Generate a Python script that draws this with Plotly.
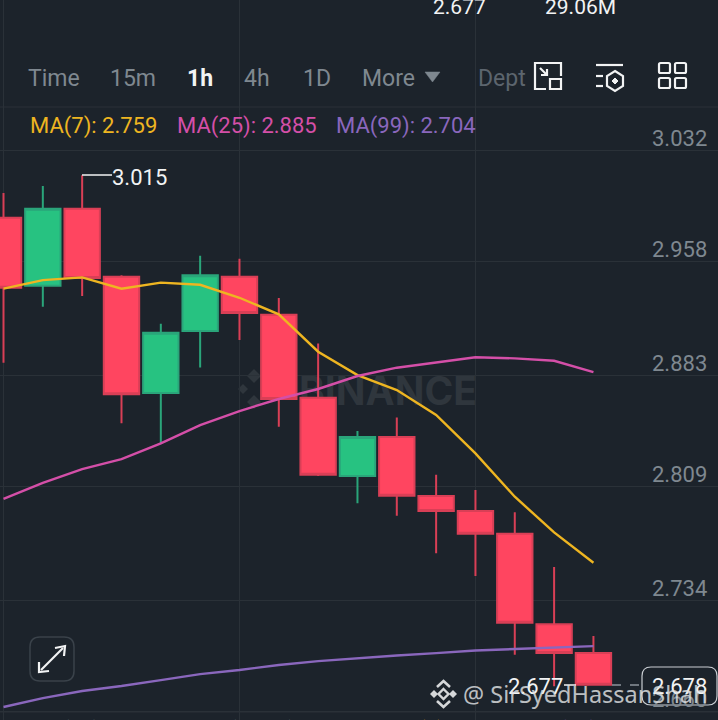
import plotly.graph_objects as go

# candle data
candle_x = list(range(16))
opens = [2.9872, 2.9422, 2.9931, 2.9481, 2.8711, 2.9122, 2.9481, 2.9230, 2.8680, 2.8162, 2.8420, 2.8029, 2.7930, 2.7780, 2.7180, 2.6990]
highs = [3.0035, 3.0082, 3.0153, 2.9491, 2.9170, 2.9620, 2.9600, 2.9340, 2.9040, 2.8460, 2.8550, 2.8170, 2.8069, 2.7922, 2.7559, 2.7103]
lows = [2.8912, 2.9283, 2.9353, 2.8511, 2.8378, 2.8881, 2.9062, 2.8488, 2.8162, 2.7981, 2.7899, 2.7650, 2.7500, 2.6979, 2.6770, 2.6780]
closes = [2.9408, 2.9931, 2.9473, 2.8703, 2.9111, 2.9491, 2.9241, 2.8672, 2.8170, 2.8420, 2.8031, 2.7930, 2.7780, 2.7191, 2.6990, 2.6780]

ma7 = [2.9402, 2.9459, 2.9477, 2.9402, 2.9442, 2.9428, 2.9342, 2.9232, 2.8985, 2.8830, 2.8731, 2.8566, 2.8312, 2.8025, 2.7789, 2.7588]
ma25 = [2.8010, 2.8116, 2.8208, 2.8274, 2.8378, 2.8499, 2.8592, 2.8672, 2.8738, 2.8824, 2.8879, 2.8912, 2.8948, 2.8941, 2.8925, 2.8850]
ma99 = [2.6633, 2.6692, 2.6739, 2.6772, 2.6811, 2.6851, 2.6878, 2.6911, 2.6937, 2.6957, 2.6974, 2.6990, 2.7007, 2.7017, 2.7027, 2.7036]

price_ticks = [3.032, 2.958, 2.883, 2.809, 2.734, 2.660]
time_ticks = [0, 6, 12]
tabs = ["Time", "15m", "1h", "4h", "1D", "More", "Dept"]

W, H = 718, 720
BG = "#1c232b"
GRID = "#2a3138"
RED = "#ff4560"
RED_EDGE = "#d93f56"
GREEN = "#27c281"
GREEN_EDGE = "#2aa57a"
YELLOW = "#eeb521"
PINK = "#d44fa8"
PURPLE = "#8a67bd"
GREY = "#7f8890"
WHITE = "#f2f3f4"
FONT = "Roboto"


def px(x):
    return x / W


def py(y):
    return 1 - y / H


def path(points, close=False):
    d = " ".join(
        ("M" if i == 0 else "L") + f"{px(x):.5f},{py(y):.5f}"
        for i, (x, y) in enumerate(points)
    )
    return d + (" Z" if close else "")


def round_box(x0, y0, x1, y1, r):
    # rounded rectangle as an svg path, corners as quadratic curves
    p = lambda x, y: f"{px(x):.5f},{py(y):.5f}"
    return (
        f"M{p(x0 + r, y0)} L{p(x1 - r, y0)} Q{p(x1, y0)} {p(x1, y0 + r)} "
        f"L{p(x1, y1 - r)} Q{p(x1, y1)} {p(x1 - r, y1)} "
        f"L{p(x0 + r, y1)} Q{p(x0, y1)} {p(x0, y1 - r)} "
        f"L{p(x0, y0 + r)} Q{p(x0, y0)} {p(x0 + r, y0)} Z"
    )


fig = go.Figure()

fig.add_trace(
    go.Candlestick(
        x=candle_x,
        open=opens,
        high=highs,
        low=lows,
        close=closes,
        whiskerwidth=0,
        increasing=dict(fillcolor=GREEN, line=dict(color=GREEN_EDGE, width=2)),
        decreasing=dict(fillcolor=RED, line=dict(color=RED_EDGE, width=2)),
        showlegend=False,
    )
)

for values, color in [(ma7, YELLOW), (ma25, PINK), (ma99, PURPLE)]:
    fig.add_trace(
        go.Scatter(
            x=candle_x,
            y=values,
            mode="lines",
            line=dict(color=color, width=2.4),
            showlegend=False,
        )
    )

fig.update_layout(
    width=W,
    height=H,
    margin=dict(l=0, r=0, t=0, b=0),
    paper_bgcolor=BG,
    plot_bgcolor=BG,
    boxgap=0.1,
    boxgroupgap=0,
    font=dict(family=FONT),
    showlegend=False,
)
fig.update_xaxes(
    range=[-0.089, 18.167],
    tickvals=time_ticks,
    showticklabels=False,
    showgrid=True,
    gridcolor=GRID,
    gridwidth=1,
    zeroline=False,
    rangeslider_visible=False,
)
fig.update_yaxes(
    range=[2.6547, 3.1313],
    tickvals=price_ticks,
    showticklabels=False,
    showgrid=True,
    gridcolor=GRID,
    gridwidth=1,
    zeroline=False,
)


def text(x, y, s, color, size=22, anchor="left", weight=None, family=FONT):
    fig.add_annotation(
        x=px(x - 1.5),
        y=py(y),
        xref="paper",
        yref="paper",
        text=s,
        showarrow=False,
        xanchor=anchor,
        yanchor="middle",
        borderpad=0,
        font=dict(family=family, size=size, color=color, weight=weight),
    )


def line(points, color=WHITE, width=2.2, close=False, dash=None, fill=None):
    fig.add_shape(
        type="path",
        xref="paper",
        yref="paper",
        path=path(points, close),
        line=dict(color=color, width=width, dash=dash),
        fillcolor=fill,
    )


def diamond(cx, cy, r, color, layer="above"):
    fig.add_shape(
        type="path", xref="paper", yref="paper", layer=layer,
        path=path([(cx - r, cy), (cx, cy - r), (cx + r, cy), (cx, cy + r)], True),
        fillcolor=color, line_width=0,
    )


# header panel covers the grid lines above the chart
fig.add_shape(type="rect", xref="paper", yref="paper", x0=0, x1=1, y0=py(107), y1=1,
              fillcolor=BG, line_width=0, layer="between")
fig.add_shape(type="line", xref="paper", yref="paper", x0=0, x1=1, y0=py(107), y1=py(107),
              line=dict(color=GRID, width=1), layer="between")
fig.add_shape(type="rect", xref="paper", yref="paper", x0=0, x1=1, y0=0, y1=py(712),
              fillcolor=BG, line_width=0, layer="between")
fig.add_shape(type="line", xref="paper", yref="paper", x0=0, x1=1, y0=py(712), y1=py(712),
              line=dict(color=GRID, width=1), layer="between")

# faded exchange watermark behind the candles
fig.add_shape(
    type="rect", xref="paper", yref="paper",
    x0=px(296), x1=px(480), y0=py(404), y1=py(374),
    line_width=0, fillcolor="rgba(0,0,0,0)", layer="below",
    label=dict(text="<b>BINANCE</b>", textposition="middle center",
               font=dict(family="Inter", size=39, color="#2f363d")),
)
for cx, cy, r in [(243, 389, 5), (254, 376, 7), (254, 402, 7), (266, 389, 5)]:
    diamond(cx, cy, r, "#2f363d", "below")

# top strip
text(433, 7, "2.677", WHITE, 21)
text(545, 7, "29.06M", WHITE, 21)

# timeframe tabs
tab_x = [28, 110, 187, 244, 303, 363, 478]
for label, x in zip(tabs, tab_x):
    if label == "1h":
        text(x, 78, label, WHITE, 23, weight="bold")
    elif label == "Dept":
        text(x, 78, label, "#5c656e", 23)
    else:
        text(x, 78, label, GREY, 23)
line([(425, 72), (440, 72), (432.5, 82)], GREY, 0.5, True, fill=GREY)

# toolbar icons
line([(561, 76), (561, 63), (535, 63), (535, 89), (546, 89)])
fig.add_shape(type="rect", xref="paper", yref="paper", x0=px(550), x1=px(561), y0=py(89), y1=py(79),
              line=dict(color=WHITE, width=2.2))
line([(540, 68), (546, 74)])
line([(541, 75), (547, 75), (547, 69)])
line([(596, 65), (623, 65)])
line([(596, 76), (603, 76)])
line([(596, 86), (603, 86)])
line([(615, 71), (623, 76), (623, 86), (615, 91), (607, 86), (607, 76)], close=True)
line([(615, 78), (618, 81), (615, 84), (612, 81)], close=True, fill=WHITE, width=1)
for x0 in (659, 675):
    for y0 in (63, 78):
        fig.add_shape(type="path", xref="paper", yref="paper",
                      path=round_box(x0, y0, x0 + 11, y0 + 10, 1.5),
                      line=dict(color=WHITE, width=2.2))

# moving average readout
text(30, 126, "MA(7): 2.759", YELLOW, 22)
text(177, 126, "MA(25): 2.885", PINK, 22)
text(336, 126, "MA(99): 2.704", PURPLE, 22)

# price scale labels sit just above their grid lines
for tick in price_ticks:
    fig.add_annotation(
        x=px(709),
        xref="paper",
        y=tick,
        yref="y",
        yshift=12,
        text=f"{tick:.3f}",
        showarrow=False,
        xanchor="right",
        yanchor="middle",
        font=dict(family=FONT, size=22, color=GREY),
    )

# high and low markers
line([(82, 175), (112, 175)], width=1.5)
text(112, 177, "3.015", WHITE, 22)
line([(564, 685), (576, 685)], width=1.5)
text(508, 686, "2.677", WHITE, 22)

# last price tag
line([(612, 685), (642, 685)], "#8c949c", 1.5, dash="dash")
fig.add_shape(type="path", xref="paper", yref="paper", path=round_box(642, 667, 717, 705, 9),
              line=dict(color="#c9ced3", width=1.2), fillcolor="rgba(28,35,43,0.6)")
text(652, 686, "2.678", WHITE, 22)

# expand button
fig.add_shape(type="path", xref="paper", yref="paper", path=round_box(30, 637, 74, 681, 10),
              line=dict(color="#3a424a", width=1.5))
line([(41, 670), (63, 648)])
line([(55, 648), (65, 646), (64, 656)], width=2.2)
line([(39, 662), (39, 672), (49, 671)], width=2.2)

# volume row, cut off by the bottom of the frame
for x, s, c in [
    (30, "MA(25): 29.9M", GREY),
    (197, "MA(USDT): 29.9M", GREY),
    (386, "MA(5): 876K", YELLOW),
    (527, "MA(10): 917K", PURPLE),
]:
    text(x, 729, s, c, 21)

# repost watermark in the corner
LOGO = "#d5d7d9"
diamond(434, 694, 4, LOGO)
diamond(453, 694, 4, LOGO)
line([(443.5, 689), (448.5, 694), (443.5, 699), (438.5, 694)], LOGO, 2.4, True)
line([(437, 687), (443.5, 681), (450, 687)], LOGO, 2.6)
line([(437, 701), (443.5, 707), (450, 701)], LOGO, 2.6)
text(463, 694, "@ SirSyedHassanShah", "rgba(225,227,229,0.82)", 23.5, family="Noto Sans")

fig.write_html(
    "out.html",
    config={"displayModeBar": False},
    post_script="document.body.style.margin='0';document.body.style.overflow='hidden';",
)
